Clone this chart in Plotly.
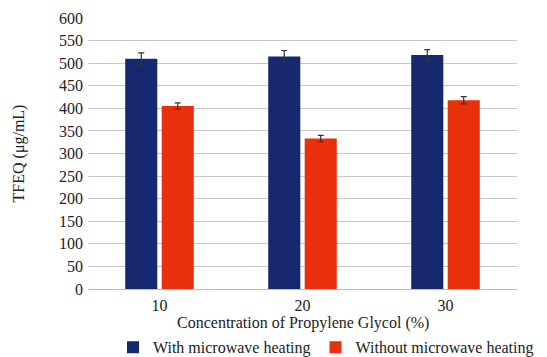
import plotly.graph_objects as go

categories = ["10", "20", "30"]
with_mw = [510, 515, 518]
with_mw_err = [13, 13, 12]
without_mw = [405, 333, 418]
without_mw_err = [7, 7, 8]

BLUE = "#162870"
RED = "#E8300C"
FONT = "Liberation Serif, Times New Roman, serif"

fig = go.Figure()
fig.add_trace(go.Bar(
    x=categories, y=with_mw, name="With microwave heating",
    marker=dict(color=BLUE, line=dict(width=0)),
    error_y=dict(type="data", array=with_mw_err, color="#333333", thickness=1.2, width=3),
))
fig.add_trace(go.Bar(
    x=categories, y=without_mw, name="Without microwave heating",
    marker=dict(color=RED, line=dict(width=0)),
    error_y=dict(type="data", array=without_mw_err, color="#333333", thickness=1.2, width=3),
))

fig.update_layout(
    width=539, height=349,
    margin=dict(l=80, r=30, t=10, b=68, autoexpand=False),
    paper_bgcolor="white", plot_bgcolor="white",
    font=dict(family=FONT, size=16, color="#222222"),
    barmode="group", bargap=0.49, bargroupgap=0.12,
    showlegend=True,
    legend=dict(orientation="h", x=0.59, xref="container", xanchor="center",
                y=0.028, yref="container", yanchor="middle",
                font=dict(size=16), itemwidth=30, traceorder="normal"),
    annotations=[dict(
        text="Concentration of Propylene Glycol (%)",
        xref="paper", yref="paper", x=0.5, y=0, xanchor="center", yanchor="middle",
        yshift=-34, showarrow=False, font=dict(size=16),
    )],
)
fig.update_xaxes(
    type="category", automargin=False,
    showline=True, linecolor="#BBBBBB", linewidth=1,
    ticks="", ticklabelstandoff=2,
)
fig.update_yaxes(
    range=[0, 600], dtick=50, automargin=False,
    showgrid=True, gridcolor="#C8C8C8", gridwidth=1,
    zeroline=False, showline=False, ticks="", ticklabelstandoff=4,
    title=dict(text="TFEQ (μg/mL)", standoff=30, font=dict(size=16)),
)

fig.write_html("out.html")
